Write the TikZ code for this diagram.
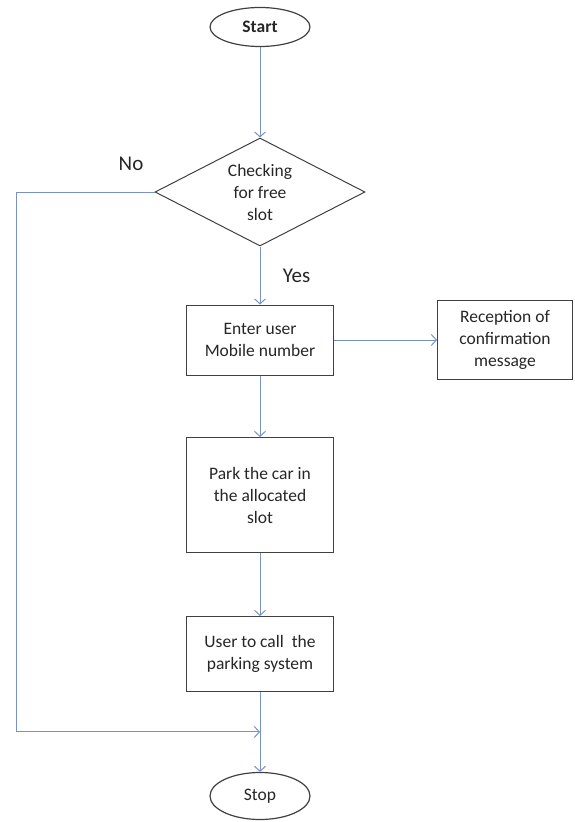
\documentclass[tikz,border=0pt]{standalone}
\usepackage{fontspec}
\setmainfont{Carlito}
\usetikzlibrary{shapes.geometric,arrows.meta,positioning,calc}
\definecolor{flowblue}{RGB}{120,146,196}
\definecolor{boxgray}{RGB}{64,64,64}
\definecolor{textgray}{RGB}{38,38,38}

\begin{document}
\begin{tikzpicture}[x=1pt,y=-1pt,
        every node/.style={font=\fontsize{17.5}{22}\selectfont,text=textgray,align=center},
        terminal/.style={ellipse,draw=boxgray,line width=1.2pt,minimum width=100pt,minimum height=39pt,inner sep=0pt},
        process/.style={rectangle,draw=boxgray,line width=1pt,minimum width=147pt,inner sep=2pt},
        decision/.style={diamond,aspect=2,draw=boxgray,line width=1pt,minimum width=210pt,minimum height=108pt,inner sep=0pt},
        flow/.style={draw=flowblue,line width=1pt,-{Straight Barb[length=5pt,width=11pt]}},
        answer/.style={font=\fontsize{21}{25}\selectfont},
        on grid]
   \useasboundingbox (0,0) rectangle (575,822);
   \node[terminal,font=\fontsize{17.5}{22}\selectfont\bfseries] (Start) at (260,27) {Start};
   \node[decision] (Check) [below=165pt of Start] {Checking\\for free\\slot};
   \node[process,minimum height=70pt] (Enter) [below=148pt of Check] {Enter user\\Mobile number};
   \node[process,minimum width=135pt,minimum height=79pt] (Reception) [right=245pt of Enter] {Reception of\\confirmation\\message};
   \node[process,minimum height=115pt] (Park) [below=155pt of Enter] {Park the car in\\the allocated\\slot};
   \node[process,minimum height=75pt] (Call) [below=159pt of Park] {User to call~ the\\parking system};
   \node[terminal,minimum height=47pt] (Stop) [below=142pt of Call] {Stop};
   \coordinate (merge) at ($(Call.south)!0.5!(Stop.north)$);

   \draw[flow] (Start) -- (Check);
   \draw[flow] (Check) -- (Enter) node[answer,midway,right=19pt,on grid=false] {Yes};
   \draw[flow] (Enter) -- (Reception);
   \draw[flow] (Enter) -- (Park);
   \draw[flow] (Park) -- (Call);
   \draw[flow] (Call) -- (Stop);
   \draw[flow] (Check.west) -- ++(-138,0) node[answer,pos=0.17,above=18pt,on grid=false] {No} |- (merge);
\end{tikzpicture}
\end{document}
